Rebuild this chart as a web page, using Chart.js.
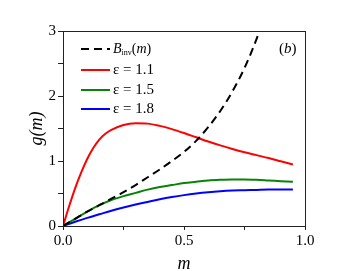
<!DOCTYPE html>
<html>
<head>
<meta charset="utf-8">
<script src="https://cdn.jsdelivr.net/npm/chart.js@4.4.1/dist/chart.umd.min.js"></script>
<style>
  html, body { margin: 0; padding: 0; background: #fff; }
  #wrap { width: 354px; height: 271px; }
</style>
</head>
<body>
<div id="wrap"><canvas id="gChart" width="354" height="271"></canvas></div>
<script>
// values
const mRed = [0, 0.025, 0.05, 0.075, 0.1, 0.125, 0.15, 0.175, 0.2, 0.25, 0.3, 0.35, 0.4, 0.45, 0.5, 0.55, 0.6, 0.65, 0.7, 0.75, 0.8, 0.85, 0.9, 0.95];
const gRed = [0, 0.30, 0.58, 0.82, 1.03, 1.20, 1.33, 1.42, 1.48, 1.555, 1.58, 1.575, 1.54, 1.49, 1.43, 1.365, 1.30, 1.24, 1.185, 1.135, 1.09, 1.045, 0.995, 0.945];

const mCurve = [0, 0.05, 0.1, 0.15, 0.2, 0.25, 0.3, 0.35, 0.4, 0.45, 0.5, 0.55, 0.6, 0.65, 0.7, 0.75, 0.8, 0.85, 0.9, 0.95];
const gGreen = [0, 0.11, 0.22, 0.32, 0.40, 0.46, 0.51, 0.56, 0.60, 0.63, 0.66, 0.68, 0.70, 0.71, 0.715, 0.715, 0.71, 0.70, 0.69, 0.68];
const gBlue = [0, 0.065, 0.125, 0.18, 0.235, 0.285, 0.33, 0.37, 0.41, 0.445, 0.475, 0.50, 0.52, 0.535, 0.545, 0.55, 0.555, 0.56, 0.56, 0.56];

const mInv = [0, 0.05, 0.1, 0.15, 0.2, 0.25, 0.3, 0.35, 0.4, 0.45, 0.5, 0.55, 0.6, 0.65, 0.7, 0.75, 0.8, 0.82];
const gInv = [0, 0.11, 0.22, 0.32, 0.42, 0.52, 0.63, 0.75, 0.87, 1.0, 1.14, 1.31, 1.52, 1.77, 2.07, 2.43, 2.88, 3.1];

const xTicks = [0, 0.5, 1.0];
const yTicks = [0, 1, 2, 3];
const epsLabels = ['ε = 1.1', 'ε = 1.5', 'ε = 1.8'];

const serif = "'Liberation Serif', 'Times New Roman', serif";

function toPoints(xs, ys) {
    const pts = [];
    for (let i = 0; i < xs.length; i++) {
        pts.push({x: xs[i], y: ys[i]});
    }
    return pts;
}

function line(label, xs, ys, color, dash) {
    return {
        label: label,
        data: toPoints(xs, ys),
        borderColor: color,
        borderWidth: 2,
        borderDash: dash || [],
        pointRadius: 0,
        fill: false,
        cubicInterpolationMode: 'monotone'
    };
}

// frame, legend and panel label
const decorations = {
    id: 'decorations',
    afterDatasetsDraw(chart) {
        const ctx = chart.ctx;
        const a = chart.chartArea;
        ctx.save();
        ctx.strokeStyle = '#222';
        ctx.lineWidth = 1;
        ctx.strokeRect(a.left + 0.5, a.top + 0.5, a.right - a.left, a.bottom - a.top);

        const rows = [49, 70, 90, 109];
        const x0 = 81, x1 = 110, tx = 113;
        const sets = chart.data.datasets;
        ctx.textBaseline = 'middle';
        ctx.fillStyle = '#000';
        for (let i = 0; i < sets.length; i++) {
            const y = rows[i];
            ctx.beginPath();
            ctx.setLineDash(sets[i].borderDash);
            ctx.strokeStyle = sets[i].borderColor;
            ctx.lineWidth = 2;
            ctx.moveTo(x0, y);
            ctx.lineTo(x1, y);
            ctx.stroke();
        }
        ctx.setLineDash([]);

        // B_inv(m)
        let x = tx;
        let y = rows[0];
        ctx.font = 'italic 14px ' + serif;
        ctx.fillText('B', x, y);
        x += ctx.measureText('B').width;
        ctx.font = '8px ' + serif;
        ctx.fillText('inv', x, y + 4);
        x += ctx.measureText('inv').width;
        ctx.font = '14px ' + serif;
        ctx.fillText('(', x, y);
        x += ctx.measureText('(').width;
        ctx.font = 'italic 14px ' + serif;
        ctx.fillText('m', x, y);
        x += ctx.measureText('m').width;
        ctx.font = '14px ' + serif;
        ctx.fillText(')', x, y);

        ctx.font = '15px ' + serif;
        for (let i = 1; i < sets.length; i++) {
            ctx.fillText(sets[i].label, tx, rows[i]);
        }

        // (b)
        x = 279;
        y = 49;
        ctx.font = '15px ' + serif;
        ctx.fillText('(', x, y);
        x += ctx.measureText('(').width;
        ctx.font = 'italic 15px ' + serif;
        ctx.fillText('b', x, y);
        x += ctx.measureText('b').width;
        ctx.font = '15px ' + serif;
        ctx.fillText(')', x, y);
        ctx.restore();
    }
};

const ctx = document.getElementById('gChart');
new Chart(ctx, {
    type: 'line',
    data: {
        datasets: [
            line('Binv(m)', mInv, gInv, '#000000', [8, 5]),
            line(epsLabels[0], mRed, gRed, '#ff0000'),
            line(epsLabels[1], mCurve, gGreen, '#078307'),
            line(epsLabels[2], mCurve, gBlue, '#0000ff')
        ]
    },
    options: {
        responsive: false,
        animation: false,
        layout: {
            padding: {left: 22, right: 49, top: 31, bottom: 0}
        },
        plugins: {
            legend: {display: false},
            tooltip: {enabled: false}
        },
        scales: {
            x: {
                type: 'linear',
                min: 0,
                max: 1,
                afterFit: function(scale) { scale.height = 45; },
                ticks: {
                    stepSize: 0.25,
                    color: '#000',
                    padding: 2,
                    font: {family: serif, size: 15},
                    callback: function(v) {
                        return xTicks.includes(v) ? v.toFixed(1) : '';
                    }
                },
                grid: {drawOnChartArea: false, tickLength: 4, color: '#222'},
                border: {color: '#222'},
                title: {
                    display: true,
                    text: 'm',
                    color: '#000',
                    padding: {top: 0, bottom: -4},
                    font: {family: serif, size: 18, style: 'italic'}
                }
            },
            y: {
                min: 0,
                max: 3,
                afterFit: function(scale) { scale.width = 41; },
                ticks: {
                    stepSize: 0.5,
                    color: '#000',
                    padding: 2,
                    font: {family: serif, size: 15},
                    callback: function(v) {
                        return yTicks.includes(v) ? String(v) : '';
                    }
                },
                grid: {drawOnChartArea: false, tickLength: 5, color: '#222'},
                border: {color: '#222'},
                title: {
                    display: true,
                    text: 'g(m)',
                    color: '#000',
                    padding: {top: 4, bottom: 0},
                    font: {family: serif, size: 18, style: 'italic'}
                }
            }
        }
    },
    plugins: [decorations]
});
</script>
</body>
</html>
